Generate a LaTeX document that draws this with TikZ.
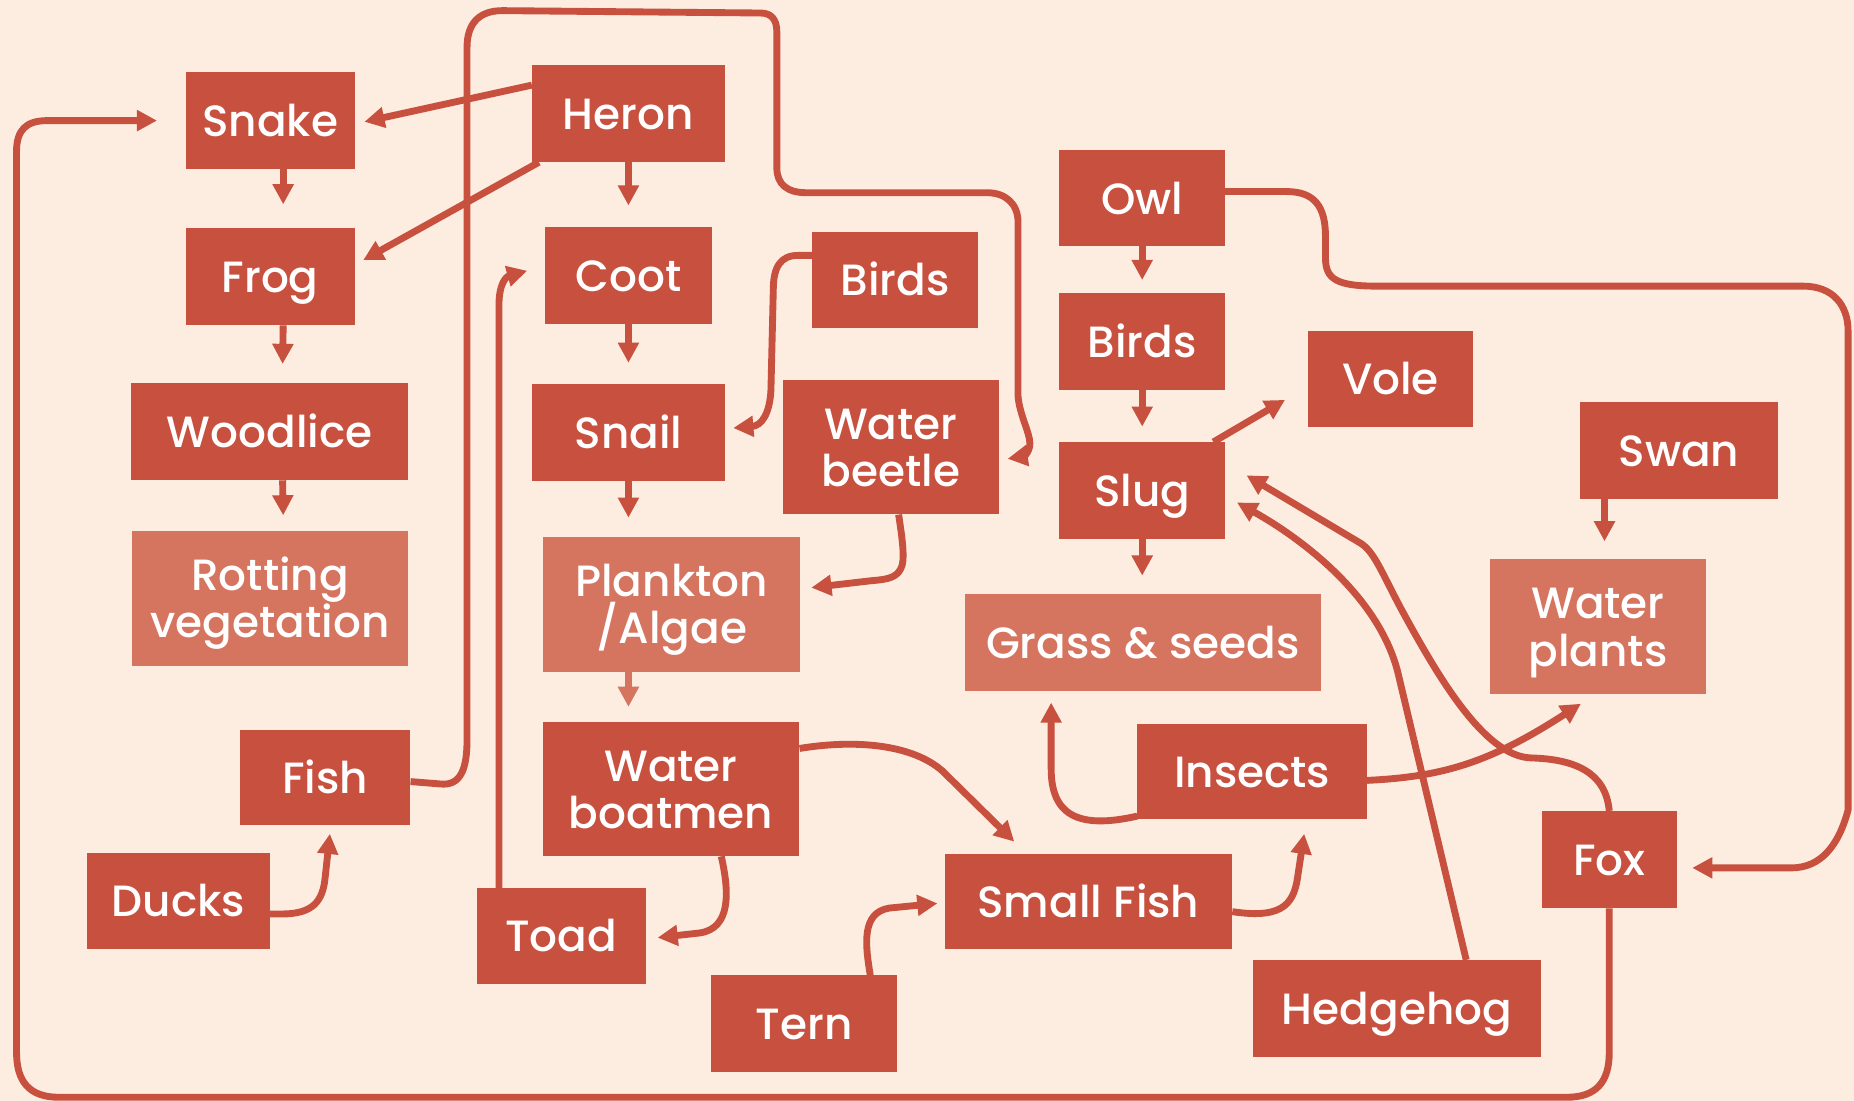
\documentclass[tikz,border=0pt]{standalone}
\usepackage{fontspec}
\setmainfont{Poppins Medium}
\usetikzlibrary{arrows.meta}
\definecolor{bg}{RGB}{253,236,224}
\definecolor{dk}{RGB}{200,80,63}
\definecolor{lt}{RGB}{213,116,95}
\begin{document}
\begin{tikzpicture}[x=1pt,y=-1pt,
  box/.style={fill=dk, text=white, inner sep=0pt, align=center, font=\fontsize{37}{40}\selectfont, text height=27pt, text depth=0pt},
  two/.style={text height=67pt},
  lbox/.style={box, fill=lt},
  arr/.style={color=dk, line width=5.8pt, line join=round, -{Triangle[width=17pt,length=17pt]}}]
\fill[bg] (0,0) rectangle (1568,931);
\useasboundingbox (0,0) rectangle (1568,931);
% boxes
\node[box, minimum width=143pt, minimum height=82pt] (snake) at (228.5,102) {Snake};
\node[box, minimum width=163pt, minimum height=82pt] (heron) at (531.5,96) {Heron};
\node[box, minimum width=143pt, minimum height=82pt] (frog) at (228.5,234) {Frog};
\node[box, minimum width=141pt, minimum height=82pt] (coot) at (531.5,233) {Coot};
\node[box, minimum width=140pt, minimum height=81pt] (birdsA) at (757,236.5) {Birds};
\node[box, minimum width=140pt, minimum height=81pt] (owl) at (966,167.5) {Owl};
\node[box, minimum width=140pt, minimum height=82pt] (birdsB) at (966,289) {Birds};
\node[box, minimum width=140pt, minimum height=81pt] (vole) at (1176,320.5) {Vole};
\node[box, minimum width=234pt, minimum height=82pt] (woodlice) at (228,365) {Woodlice};
\node[box, minimum width=163pt, minimum height=82pt] (snail) at (531.5,366) {Snail};
\node[box, two, minimum width=183pt, minimum height=114pt] (beetle) at (753.5,378) {Water\\beetle};
\node[box, minimum width=140pt, minimum height=82pt] (slug) at (966,415) {Slug};
\node[box, minimum width=168pt, minimum height=82pt] (swan) at (1420,381) {Swan};
\node[lbox, two, minimum width=233pt, minimum height=114pt] (rotting) at (228.5,506) {Rotting\\vegetation};
\node[lbox, two, minimum width=218pt, minimum height=114pt] (plankton) at (568,511) {Plankton\\/Algae};
\node[lbox, minimum width=301pt, minimum height=82pt] (grass) at (966.5,543) {Grass \& seeds};
\node[lbox, two, minimum width=183pt, minimum height=114pt] (wp) at (1351.5,530) {Water\\plants};
\node[box, minimum width=144pt, minimum height=81pt] (fish) at (275,657.5) {Fish};
\node[box, two, minimum width=217pt, minimum height=113pt] (wb) at (567.5,667.5) {Water\\boatmen};
\node[box, minimum width=194pt, minimum height=81pt] (insects) at (1059,652.5) {Insects};
\node[box, minimum width=114pt, minimum height=82pt] (fox) at (1361,727) {Fox};
\node[box, minimum width=154pt, minimum height=82pt] (ducks) at (151,762) {Ducks};
\node[box, minimum width=143pt, minimum height=81pt] (toad) at (474.5,791.5) {Toad};
\node[box, minimum width=243pt, minimum height=81pt] (smallfish) at (920.5,762.5) {Small Fish};
\node[box, minimum width=158pt, minimum height=82pt] (tern) at (680,866) {Tern};
\node[box, minimum width=243pt, minimum height=82pt] (hedgehog) at (1181.5,853) {Hedgehog};
% short vertical arrows
\draw[arr] ([xshift=11pt]snake.south) -- ([xshift=11pt,yshift=20pt]frog.north);
\draw[arr] ([xshift=11pt]frog.south) -- ([xshift=11pt,yshift=16pt]woodlice.north);
\draw[arr] ([xshift=11pt]woodlice.south) -- ([xshift=11pt,yshift=13pt]rotting.north);
\draw[arr] (heron.south) -- ([yshift=18pt]coot.north);
\draw[arr] (coot.south) -- ([yshift=18pt]snail.north);
\draw[arr] (snail.south) -- ([xshift=-36.5pt,yshift=16pt]plankton.north);
\draw[arr,color=lt] ([xshift=-36.5pt]plankton.south) -- ([xshift=-36pt,yshift=13pt]wb.north);
\draw[arr] (owl.south) -- ([yshift=11pt]birdsB.north);
\draw[arr] (birdsB.south) -- ([yshift=13pt]slug.north);
\draw[arr] (slug.south) -- ([xshift=-0.5pt,yshift=15pt]grass.north);
\draw[arr] ([xshift=-63pt]swan.south) -- ([xshift=5.5pt,yshift=15pt]wp.north);
% heron
\draw[arr] ([yshift=24pt]heron.west) -- ([xshift=8pt,yshift=-1pt]snake.east);
\draw[arr] ([xshift=6pt]heron.south west) -- ([xshift=7pt,yshift=14pt]frog.east);
% slug -> vole
\draw[arr] ([xshift=-10pt]slug.north east) -- ([xshift=-19pt,yshift=23pt]vole.south west);
% fish loop
\draw[arr] ([yshift=-3.5pt]fish.east) -- (372,663) .. controls (390,665) and (395,650) .. (395,625)
  -- (395,40) .. controls (395,20) and (405,9) .. (425,9) -- (643,11)
  .. controls (652,11) and (657,16) .. (657,27) -- (657,142)
  .. controls (657,156) and (666,163) .. (682,163) -- (835,163)
  .. controls (850,163) and (861,172) .. (861,188) -- (861,335)
  .. controls (862,350) and (871,366) .. (871,375)
  .. controls (871,383) and (865,386) .. ([xshift=7pt,yshift=-10pt]beetle.east);
% outer loop fox -> snake
\draw[arr] (fox.south) -- (1361,890) .. controls (1361,915) and (1350,928) .. (1325,928)
  -- (50,928) .. controls (25,928) and (14,915) .. (14,890) -- (14,128)
  .. controls (14,110) and (22,102) .. (40,102) -- ([xshift=-24pt]snake.west);
% owl -> fox
\draw[arr] ([yshift=5.5pt]owl.east) -- (1088,162) .. controls (1112,162) and (1121,175) .. (1121,200)
  -- (1121,218) .. controls (1121,236) and (1130,242) .. (1165,242) -- (1525,242)
  .. controls (1550,242) and (1563,258) .. (1563,280) -- (1563,685)
  .. controls (1555,715) and (1540,734) .. (1515,734) -- ([xshift=13pt,yshift=-7pt]fox.east);
% birds -> snail
\draw[arr] ([yshift=20.5pt]birdsA.west) -- (675,216) .. controls (660,216) and (654,226) .. (654,245)
  -- (652,330) .. controls (651,350) and (644,360) .. ([xshift=7pt,yshift=4pt]snail.east);
% beetle -> plankton
\draw[arr] ([xshift=6.5pt]beetle.south) .. controls (763,455) and (765,470) .. (763,478)
  .. controls (760,488) and (752,490) .. (738,491) -- ([xshift=9pt,yshift=14pt]plankton.east);
% water boatmen -> small fish
\draw[arr] ([yshift=34.5pt]wb.east) .. controls (725,625) and (772,630) .. (797,652)
  -- ([xshift=59pt,yshift=10pt]smallfish.north west);
% water boatmen -> toad
\draw[arr] ([xshift=42.5pt]wb.south) .. controls (617,755) and (618,785) .. (592,789)
  -- ([xshift=10pt,yshift=-1.5pt]toad.east);
% toad -> coot
\draw[arr] ([xshift=-52.5pt]toad.north) -- (422,258) .. controls (422,240) and (428,234) .. ([xshift=-15pt,yshift=4pt]coot.west);
% ducks -> fish
\draw[arr] ([yshift=-11pt]ducks.east) -- (238,773) .. controls (264,773) and (273,763) .. (275,742)
  -- ([xshift=4pt,yshift=-7pt]fish.south);
% tern -> small fish
\draw[arr] ([xshift=56pt]tern.north) .. controls (732,800) and (728,772) .. (752,768)
  -- ([xshift=-6pt,yshift=-1.5pt]smallfish.west);
% small fish -> insects
\draw[arr] ([yshift=-8.5pt]smallfish.east) .. controls (1088,778) and (1095,762) .. (1098,738)
  -- ([xshift=44pt,yshift=-12pt]insects.south);
% insects -> grass
\draw[arr] ([yshift=3pt]insects.south west) .. controls (910,702) and (889,688) .. (889,650)
  -- ([xshift=-77.5pt,yshift=-10pt]grass.south);
% insects -> water plants
\draw[arr] ([yshift=-7.5pt]insects.east) .. controls (1220,657) and (1260,645) .. ([xshift=-14.5pt,yshift=-8pt]wp.south);
% hedgehog -> slug
\draw[arr] ([xshift=58.5pt]hedgehog.north) -- (1183,572) .. controls (1168,505) and (1100,455) .. ([xshift=10pt,yshift=-10pt]slug.east);
% fox -> slug
\draw[arr] (fox.north) .. controls (1358,652) and (1330,642) .. (1295,641)
  .. controls (1255,640) and (1215,570) .. (1185,515)
  .. controls (1168,483) and (1162,466) .. (1150,459)
  -- ([xshift=18pt,yshift=13pt]slug.east);
\end{tikzpicture}
\end{document}
